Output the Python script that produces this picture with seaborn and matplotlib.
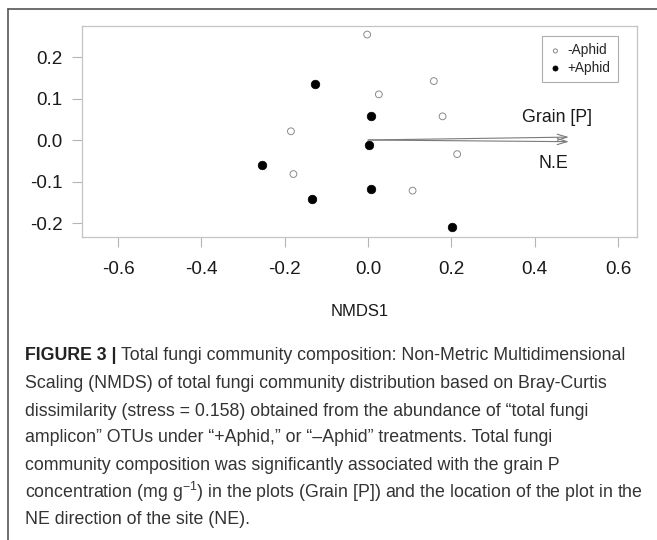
import pandas as pd
import matplotlib
matplotlib.use("Agg")
import matplotlib.pyplot as plt
import seaborn as sns
from matplotlib.lines import Line2D

# NMDS site scores
minus_x = [-0.002, 0.158, 0.026, 0.179, 0.214, 0.107, -0.185, -0.179]
minus_y = [0.254, 0.142, 0.110, 0.057, -0.034, -0.122, 0.021, -0.082]
plus_x = [-0.127, 0.006, 0.003, -0.255, -0.135, 0.006, 0.202]
plus_y = [0.136, 0.058, -0.012, -0.060, -0.142, -0.118, -0.210]

# fitted environmental vectors (envfit arrows) and their labels
vec_names = ["Grain [P]", "N.E"]
vec_x = [0.482, 0.482]
vec_y = [0.007, -0.004]
lab_x = [0.454, 0.444]
lab_y = [0.055, -0.057]

xticks = [-0.6, -0.4, -0.2, 0.0, 0.2, 0.4, 0.6]
yticks = [-0.2, -0.1, 0.0, 0.1, 0.2]

caption_bold = "FIGURE 3 | "
caption_lines = [
    "Total fungi community composition: Non-Metric Multidimensional",
    "Scaling (NMDS) of total fungi community distribution based on Bray-Curtis",
    "dissimilarity (stress = 0.158) obtained from the abundance of \u201ctotal fungi",
    "amplicon\u201d OTUs under \u201c+Aphid,\u201d or \u201c\u2013Aphid\u201d treatments. Total fungi",
    "community composition was significantly associated with the grain P",
    "concentration (mg g$^{\\mathrm{-1}}$) in the plots (Grain [P]) and the location of the plot in the",
    "NE direction of the site (NE).",
]

df = pd.DataFrame({
    "NMDS1": minus_x + plus_x,
    "NMDS2": minus_y + plus_y,
    "Treatment": ["-Aphid"] * len(minus_x) + ["+Aphid"] * len(plus_x),
})

sns.set_style("white")
plt.rcParams["font.family"] = ["Liberation Sans", "DejaVu Sans"]
plt.rcParams["mathtext.fontset"] = "custom"
plt.rcParams["mathtext.rm"] = "Liberation Sans"
plt.rcParams["mathtext.it"] = "Liberation Sans"

W, H = 657, 540
fig = plt.figure(figsize=(W / 100, H / 100), dpi=100)
ax = fig.add_axes([82 / W, 1 - 237 / H, 555 / W, 211 / H])

sns.scatterplot(data=df[df.Treatment == "-Aphid"], x="NMDS1", y="NMDS2", ax=ax,
                marker="o", s=24, facecolor="none", edgecolor="#8a8a8a",
                linewidth=0.7, label="-Aphid")
sns.scatterplot(data=df[df.Treatment == "+Aphid"], x="NMDS1", y="NMDS2", ax=ax,
                marker="o", s=38, color="black", edgecolor="black",
                linewidth=0.5, label="+Aphid")

for name, vx, vy, tx, ty in zip(vec_names, vec_x, vec_y, lab_x, lab_y):
    ax.annotate("", xy=(vx, vy), xytext=(0, 0),
                arrowprops=dict(arrowstyle="->,head_length=0.7,head_width=0.22",
                                color="#7a7a7a", lw=0.8, shrinkA=0, shrinkB=0))
    ax.text(tx, ty, name, ha="center", va="center", fontsize=12.8, color="#1a1a1a")

ax.set_xlim(-0.6864, 0.6456)
ax.set_ylim(-0.2337, 0.2747)
ax.set_xticks(xticks)
ax.set_yticks(yticks)
ax.set_xticklabels([f"{t:.1f}" for t in xticks])
ax.set_yticklabels([f"{t:.1f}" for t in yticks])
ax.set_xlabel("NMDS1", fontsize=12, color="#1a1a1a", labelpad=19)
ax.set_ylabel("")
ax.tick_params(axis="both", which="major", length=7, width=0.8, color="#b5b5b5",
               labelsize=13.6, labelcolor="#1a1a1a", left=True, bottom=True)
ax.tick_params(axis="x", pad=10)
ax.tick_params(axis="y", pad=7)
for sp in ax.spines.values():
    sp.set_color("#c4c4c4")
    sp.set_linewidth(0.9)

leg = ax.legend(loc="upper right", bbox_to_anchor=(618 / 555 - 82 / 555, (237 - 36) / 211),
                frameon=True, fancybox=False, fontsize=9.8, markerscale=0.6,
                handlelength=0.8, handletextpad=0.5, borderpad=0.55,
                labelspacing=0.25, borderaxespad=0)
leg.get_frame().set_edgecolor("#9a9a9a")
leg.get_frame().set_linewidth(0.8)

# outer frame of the figure panel
fig.add_artist(Line2D([8 / W, 1], [1 - 9 / H, 1 - 9 / H], color="#555555", lw=1.2))
fig.add_artist(Line2D([8 / W, 8 / W], [1 - 9 / H, 0], color="#555555", lw=1.2))

# caption
cap_x = 25 / W
line_y = [356, 384, 411, 438, 465, 492, 519]
cap_size = 12.75
renderer = fig.canvas.get_renderer()
bold = fig.text(cap_x, 1 - line_y[0] / H, caption_bold, fontsize=cap_size,
                fontweight="bold", color="#222222", va="center", ha="left")
bx = bold.get_window_extent(renderer).x1 / W
for i, (txt, y) in enumerate(zip(caption_lines, line_y)):
    fig.text(bx if i == 0 else cap_x, 1 - y / H, txt, fontsize=cap_size,
             color="#333333", va="center", ha="left")

fig.savefig("out.png", dpi=100)
